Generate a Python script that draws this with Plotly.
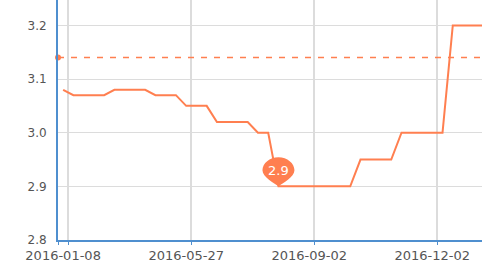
import plotly.graph_objects as go

# ---- data ----
values = [3.08,
          3.07, 3.07, 3.07, 3.07,
          3.08, 3.08, 3.08, 3.08,
          3.07, 3.07, 3.07,
          3.05, 3.05, 3.05,
          3.02, 3.02, 3.02, 3.02,
          3.00, 3.00,
          2.90, 2.90, 2.90, 2.90, 2.90, 2.90, 2.90, 2.90,
          2.95, 2.95, 2.95, 2.95,
          3.00, 3.00, 3.00, 3.00, 3.00,
          3.20, 3.20, 3.20, 3.20]
tick_index = [0, 12, 24, 36]
tick_labels = ["2016-01-08", "2016-05-27", "2016-09-02", "2016-12-02"]
y_ticks = [2.8, 2.9, 3.0, 3.1, 3.2]
average_value = 3.14

x_idx = list(range(len(values)))
min_val = min(values)
min_idx = values.index(min_val)

LINE = "#ff7f50"
AXIS = "#4f8fcf"
GRID = "#dcdcdc"
TXT = "#555555"
FONT = "DejaVu Sans"

x_range = [-0.5, 40.85]
y_range = [2.8, 3.2473]

fig = go.Figure()
fig.add_trace(go.Scatter(x=x_idx, y=values, mode="lines",
                         line=dict(color=LINE, width=2), hoverinfo="skip"))
# average mark line
fig.add_trace(go.Scatter(x=[x_range[0], x_range[1] + 5], y=[average_value, average_value],
                         mode="lines", line=dict(color=LINE, width=1.5, dash="6px,7px"),
                         hoverinfo="skip"))
fig.add_trace(go.Scatter(x=[x_range[0]], y=[average_value], mode="markers",
                         marker=dict(color=LINE, size=6), cliponaxis=False, hoverinfo="skip"))

# min pin
pin = ("M0,0 C-4,3 -16,9 -16,16 C-16,22.9 -8.8,29 0,29 "
       "C8.8,29 16,22.9 16,16 C16,9 4,3 0,0 Z")
fig.add_shape(type="path", xref="x", yref="y", xsizemode="pixel", ysizemode="pixel",
              xanchor=min_idx, yanchor=min_val, path=pin,
              fillcolor=LINE, line=dict(width=0), layer="above")
fig.add_annotation(x=min_idx, y=min_val, text=f"{min_val:g}", showarrow=False, yshift=16,
                   font=dict(family=FONT, size=13, color="white"))

fig.update_layout(
    width=482, height=262,
    margin=dict(l=58, r=0, t=0, b=22),
    paper_bgcolor="white", plot_bgcolor="white",
    showlegend=False,
    xaxis=dict(range=x_range, tickmode="array", tickvals=tick_index, ticktext=tick_labels,
               showgrid=False, zeroline=False, showline=True, linecolor=AXIS, linewidth=2,
               ticks="", ticklabelstandoff=2,
               tickfont=dict(family=FONT, size=13, color=TXT)),
    xaxis2=dict(overlaying="x", matches="x", range=x_range, anchor="y", side="bottom",
                tickmode="array", tickvals=[-0.5] + [i + 0.5 for i in tick_index],
                showticklabels=False, showgrid=True, gridcolor=GRID, gridwidth=1.5,
                ticks="outside", ticklen=4, tickcolor=AXIS, tickwidth=1, zeroline=False,
                showline=False),
    yaxis=dict(range=y_range, tickmode="array", tickvals=y_ticks,
               ticktext=[f"{v:.1f}" for v in y_ticks],
               showgrid=True, gridcolor=GRID, gridwidth=1, zeroline=False,
               showline=True, linecolor=AXIS, linewidth=2, ticks="",
               ticklabelstandoff=7,
               tickfont=dict(family=FONT, size=12, color=TXT)),
)
# dummy trace to activate xaxis2
fig.add_trace(go.Scatter(x=[None], y=[None], xaxis="x2", showlegend=False))

fig.write_html("out.html")
